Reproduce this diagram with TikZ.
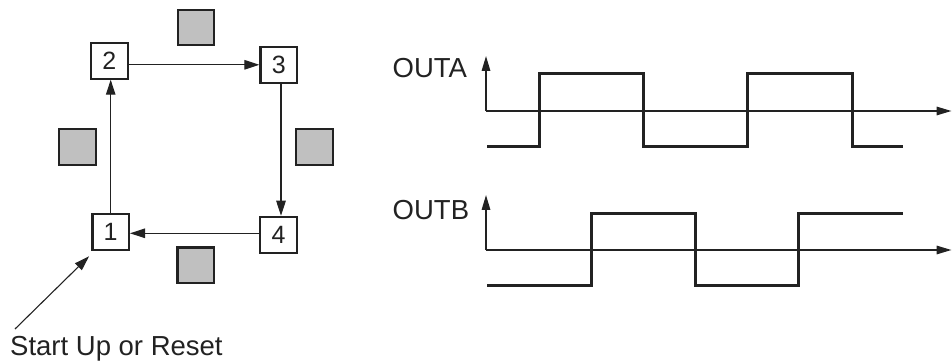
\documentclass[tikz,border=0pt]{standalone}
\usepackage{fontspec}
\setmainfont{Liberation Sans}
\usetikzlibrary{arrows.meta,calc}
\definecolor{ink}{HTML}{222222}
\definecolor{pad}{HTML}{C0C0C0}
\tikzset{
  statebox/.style={draw=ink, line width=2.1pt, fill=white, minimum width=36.5pt, minimum height=36pt, inner sep=0pt, font=\fontsize{25}{29}\selectfont, text=ink},
  padbox/.style={draw=ink, line width=2.1pt, fill=pad, minimum width=36.5pt, minimum height=35.5pt, inner sep=0pt},
  flow/.style={draw=ink, line width=1.1pt, -{Triangle[length=15pt,width=9.5pt]}},
  axis/.style={draw=ink, line width=1.6pt, -{Triangle[length=15pt,width=8.5pt]}},
  wave/.style={draw=ink, line width=3pt, line join=miter, line cap=butt},
  lbl/.style={font=\fontsize{27.5}{31}\selectfont, text=ink, inner sep=0pt, anchor=base west}
}
\begin{document}
\begin{tikzpicture}[x=1pt,y=-1pt]
\useasboundingbox (0,0) rectangle (952,363);
% state boxes
\node[statebox] (b2) at (109.3,60.7) {2};
\node[statebox] (b3) at (278.7,64.8) {3};
\node[statebox] (b1) at (110.7,232.2) {1};
\node[statebox] (b4) at (278.5,234.8) {4};
% grey pads
\node[padbox] (gt) at (195.8,27.7) {};
\node[padbox] (gl) at (77.5,147) {};
\node[padbox] (gr) at (314.5,147) {};
\node[padbox] (gb) at (195.7,265.2) {};
% cycle arrows
\draw[flow] (b2.east |- b3) -- (b3.west);
\draw[flow] ([xshift=2.3pt]b3.south) -- ([xshift=2.5pt]b4.north);
\draw[flow] (b4.west |- 0,233.3) -- (b1.east |- 0,233.3);
\draw[flow] (b1.north) -- (b1.north |- b2.south);
% start arrow
\coordinate (st) at (15,329);
\coordinate (sttip) at ($(b1.south west)+(-2.3,5)$);
\draw[flow] (st) -- (sttip);
\node[lbl] (startlbl) at (10,355) {Start Up or Reset};
% OUTA
\node[lbl] (outa) at (392.5,78) {OUTA};
\coordinate (oa) at (486,111);
\coordinate (oatop) at (486,56);
\coordinate (oaend) at (951.5,111);
\draw[axis] (oa) -- (oatop);
\draw[axis] (oa) -- (oaend);
\draw[wave] (487,146.5) -- (539,146.5) -- (539,74) -- (643,74) -- (643,146.5) -- (747,146.5) -- (747,74) -- (852,74) -- (852,146.5) -- (903,146.5);
% OUTB
\node[lbl] (outb) at (392.5,220) {OUTB};
\coordinate (ob) at (486,250);
\coordinate (obtop) at (486,195);
\coordinate (obend) at (951.5,250);
\draw[axis] (ob) -- (obtop);
\draw[axis] (ob) -- (obend);
\draw[wave] (487,285) -- (591,285) -- (591,214) -- (695,214) -- (695,285) -- (798,285) -- (798,214) -- (903,214);
\end{tikzpicture}
\end{document}
